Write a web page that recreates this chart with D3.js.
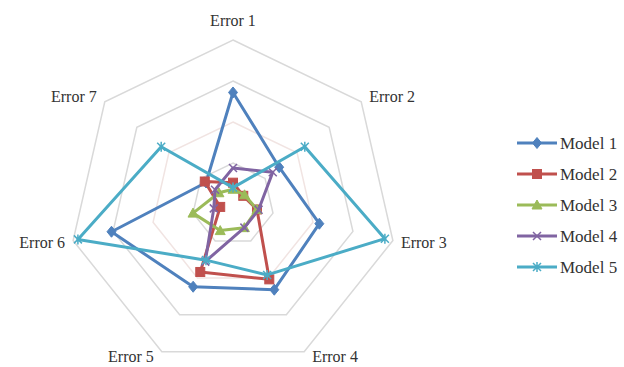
<!DOCTYPE html>
<html>
<head>
<meta charset="utf-8">
<script src="https://cdn.jsdelivr.net/npm/d3@7/dist/d3.min.js"></script>
<style>
  html, body { margin: 0; padding: 0; background: #fff; }
  svg { display: block; }
</style>
</head>
<body>
<svg id="chart" width="624" height="367"></svg>
<script>
// Axes of the radar, clockwise from the top
const categories = ["Error 1", "Error 2", "Error 3", "Error 4", "Error 5", "Error 6", "Error 7"];
const seriesNames = ["Model 1", "Model 2", "Model 3", "Model 4", "Model 5"];

// Values per model, in axis order
const model1 = [0.68, 0.36, 0.54, 0.58, 0.56, 0.76, 0.21];
const model2 = [0.13, 0.08, 0.15, 0.51, 0.46, 0.08, 0.22];
const model3 = [0.09, 0.09, 0.15, 0.16, 0.18, 0.25, 0.11];
const model4 = [0.22, 0.31, 0.16, 0.16, 0.39, 0.12, 0.14];
const model5 = [0.10, 0.56, 0.95, 0.48, 0.38, 0.97, 0.56];

// Grid ring levels
const gridLevels = [0.25, 0.5, 0.75, 1.0];

const seriesValues = [model1, model2, model3, model4, model5];
const colors = ["#4F81BD", "#C0504D", "#9BBB59", "#8064A2", "#4BACC6"];
const markers = ["diamond", "square", "triangle", "cross", "star"];
const FONT = "'Liberation Serif', 'Times New Roman', Times, serif";

const svg = d3.select("#chart");
const cx = 233, cy = 204, R = 164;
const n = categories.length;

const r = d3.scaleLinear().domain([0, 1]).range([0, R]);
const angle = d3.scalePoint().domain(d3.range(n + 1)).range([0, 2 * Math.PI]);
const pt = (i, v) => {
  const a = angle(i);
  return [cx + r(v) * Math.sin(a), cy - r(v) * Math.cos(a)];
};

// Grid rings
const ringColor = l => l === 0.5 ? "#F1E4E2" : "#D9D9D9";
svg.append("g").selectAll("path")
  .data(gridLevels)
  .join("path")
  .attr("d", l => d3.line()(d3.range(n).map(i => pt(i, l))) + "Z")
  .attr("fill", "none")
  .attr("stroke", ringColor)
  .attr("stroke-width", 1.5);

// Category labels
svg.append("g").selectAll("text")
  .data(categories)
  .join("text")
  .each(function(c, i) {
    const a = angle(i);
    const s = Math.sin(a), co = Math.cos(a);
    const [vx] = pt(i, 1);
    let x = vx, anchor = "middle";
    if (s > 0.1) { x = vx + 8; anchor = "start"; }
    else if (s < -0.1) { x = vx - 8; anchor = "end"; }
    let y = cy - co * (R + 8);
    if (i === 0) y = cy - (R + 20);
    if (co < -0.5) y = cy - co * (R + 5);
    d3.select(this)
      .attr("x", x).attr("y", y)
      .attr("dy", "0.35em")
      .attr("text-anchor", anchor)
      .attr("font-family", FONT)
      .attr("font-size", 16)
      .attr("fill", "#333")
      .text(c);
  });

// Marker shapes
function drawMarker(g, type, color, x, y) {
  const s = 4.5;
  if (type === "diamond") {
    g.append("path").attr("d", `M${x},${y - s - 1}L${x + s},${y}L${x},${y + s + 1}L${x - s},${y}Z`)
      .attr("fill", color).attr("stroke", color);
  } else if (type === "square") {
    g.append("rect").attr("x", x - 4.5).attr("y", y - 4.5).attr("width", 9).attr("height", 9)
      .attr("fill", color).attr("stroke", color);
  } else if (type === "triangle") {
    g.append("path").attr("d", `M${x},${y - 5}L${x + 5},${y + 4}L${x - 5},${y + 4}Z`)
      .attr("fill", color).attr("stroke", color);
  } else if (type === "cross") {
    g.append("path").attr("d", `M${x - 4},${y - 4}L${x + 4},${y + 4}M${x - 4},${y + 4}L${x + 4},${y - 4}`)
      .attr("stroke", color).attr("stroke-width", 1.5).attr("fill", "none");
  } else if (type === "star") {
    g.append("path").attr("d", `M${x - 4},${y - 4}L${x + 4},${y + 4}M${x - 4},${y + 4}L${x + 4},${y - 4}M${x},${y - 5}L${x},${y + 5}`)
      .attr("stroke", color).attr("stroke-width", 1.5).attr("fill", "none");
  }
}

// Series polygons and markers
const seriesG = svg.append("g");
seriesValues.forEach((vals, k) => {
  const g = seriesG.append("g");
  const pts = vals.map((v, i) => pt(i, v));
  g.append("path")
    .attr("d", d3.line()(pts) + "Z")
    .attr("fill", "none")
    .attr("stroke", colors[k])
    .attr("stroke-width", 3)
    .attr("stroke-linejoin", "round");
  pts.forEach(([x, y]) => drawMarker(g, markers[k], colors[k], x, y));
});

// Legend
const legendY = d3.scalePoint().domain(seriesNames).range([143, 267]);
const legend = svg.append("g");
seriesNames.forEach((name, k) => {
  const y = legendY(name);
  const g = legend.append("g");
  g.append("line").attr("x1", 517).attr("x2", 557).attr("y1", y).attr("y2", y)
    .attr("stroke", colors[k]).attr("stroke-width", 3);
  drawMarker(g, markers[k], colors[k], 537, y);
  g.append("text").attr("x", 560).attr("y", y).attr("dy", "0.35em")
    .attr("font-family", FONT)
    .attr("font-size", 17)
    .attr("fill", "#333")
    .text(name);
});
</script>
</body>
</html>
